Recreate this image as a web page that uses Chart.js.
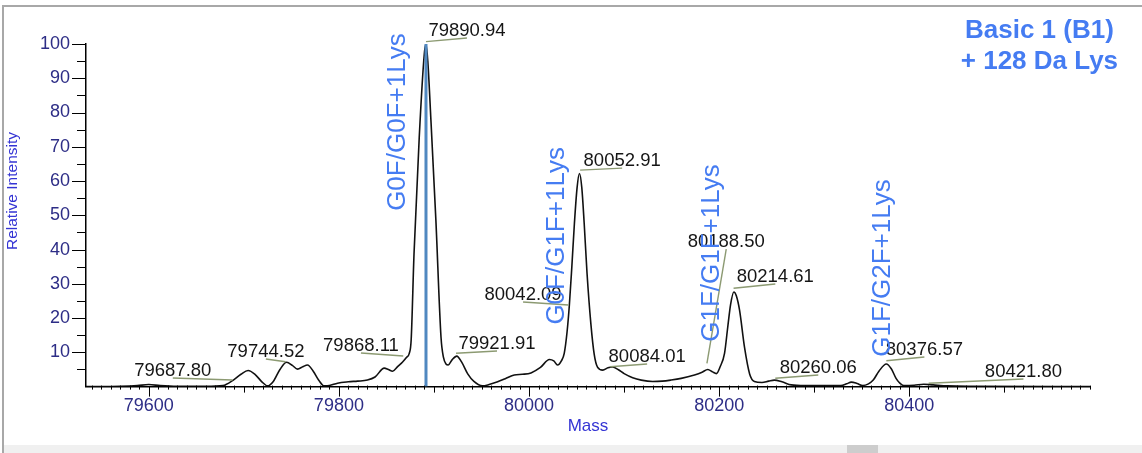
<!DOCTYPE html>
<html>
<head>
<meta charset="utf-8">
<script src="https://cdn.jsdelivr.net/npm/chart.js@4.4.1/dist/chart.umd.min.js"></script>
<style>
  html, body { margin: 0; padding: 0; background: #fff; }
  #wrap { width: 1142px; height: 453px; }
</style>
</head>
<body>
<div id="wrap"><canvas id="massChart" width="1142" height="453"></canvas></div>
<script>
// Deconvoluted spectrum
const masses = [
  79534, 79570, 79588, 79600, 79612, 79630, 79660, 79678, 79689, 79697,
  79704.5, 79712, 79719, 79725, 79731, 79738, 79745, 79751, 79756.5, 79762,
  79767, 79773, 79779, 79784.5, 79790, 79798.6, 79810, 79819.7, 79830, 79838,
  79847.7, 79852, 79856.5, 79862, 79867, 79871, 79874, 79876, 79879, 79884.5,
  79889.8, 79891.6, 79893.5, 79896.8, 79902, 79907.4, 79910, 79912.6, 79915, 79919,
  79924, 79929, 79935.5, 79942, 79951, 79958, 79967, 79975, 79984.5, 79993,
  80002, 80012, 80021.4, 80026, 80030, 80034, 80037, 80040, 80042.4, 80045,
  80047.7, 80050.5, 80053, 80055.5, 80058, 80061, 80065, 80068.5, 80072, 80077.6,
  80083, 80088, 80094, 80100, 80109, 80118, 80130, 80140, 80149, 80160,
  80174, 80182, 80188, 80193, 80197, 80201, 80205.6, 80209, 80212, 80215.4,
  80218, 80221.4, 80226.6, 80232, 80237, 80245, 80252, 80258, 80266, 80275.8,
  80290, 80310, 80328, 80334, 80339, 80345, 80351, 80357, 80362, 80368,
  80375.8, 80381, 80386, 80390, 80394, 80405, 80415, 80425, 80440, 80470,
  80590
];
const intensity = [
  0, 0.1, 0.3, 0.6, 0.3, 0.1, 0.1, 0.3, 1.9, 3.6,
  4.7, 3.5, 1.4, 0.2, 1.5, 5.0, 7.1, 6.2, 5.1, 5.8,
  6.3, 4.5, 1.8, 0.2, 0.3, 1.0, 1.4, 1.6, 1.9, 2.8,
  5.4, 5.0, 4.5, 5.9, 7.2, 8.5, 9.7, 13.6, 38.7, 72.8,
  97, 100, 95, 77.7, 48.6, 14.4, 8.5, 6.6, 6.3, 7.8,
  8.9, 7.2, 3.7, 1.5, 0.2, 0.6, 1.4, 2.3, 3.4, 3.6,
  4.0, 5.6, 7.9, 7.5, 6.3, 7.5, 9.7, 16, 23.8, 35,
  47.6, 58, 62.2, 58, 47.6, 33, 18.4, 9.5, 5.7, 4.8,
  5.5, 5.7, 4.9, 3.8, 2.6, 1.9, 1.5, 1.6, 1.9, 2.4,
  3.4, 4.2, 5.0, 4.3, 3.8, 5.8, 9.7, 17.4, 24, 27.6,
  26.5, 22.3, 11.5, 3.7, 1.5, 1.2, 1.6, 1.9, 1.4, 0.5,
  0.3, 0.3, 0.3, 0.8, 1.3, 0.9, 0.3, 0.8, 1.9, 4.5,
  6.6, 5.2, 2.4, 1.0, 0.3, 0.4, 0.7, 0.5, 0.2, 0.1,
  0
];

// selected peak (blue marker)
const markerMass = 79891.6;
const markerTop = 100;

const xTicks = [79600, 79800, 80000, 80200, 80400];
const yTicks = [10, 20, 30, 40, 50, 60, 70, 80, 90, 100];

// peak labels
const peakLabels = ['79687.80', '79744.52', '79868.11', '79890.94', '79921.91', '80042.09', '80052.91',
  '80084.01', '80188.50', '80214.61', '80260.06', '80376.57', '80421.80'];
const peakMass = [79688.1, 79743.9, 79867.7, 79891.6, 79923.2, 80041.4, 80053.7,
  80085.3, 80187.1, 80215.1, 80259.0, 80375.8, 80420.3];
const peakLevel = [1.93, 7.27, 8.93, 100.7, 9.72, 23.82, 63.2, 5.81, 6.8, 28.7, 2.42, 7.56, 0.96];

// glycoform labels
const glycoLabels = ['G0F/G0F+1Lys', 'G0F/G1F+1Lys', 'G1F/G1F+1Lys', 'G1F/G2F+1Lys'];

const titleLines = ['Basic 1 (B1)', '+ 128 Da Lys'];

// where the label texts sit (data units)
const labelAt = {
  peaks: [[79625.3, 4.55], [79723.2, 10.1], [79823.2, 11.85], [79934.7, 103.8], [79966.3, 12.43],
    [79993.7, 26.74], [80097.9, 65.8], [80124.2, 8.64], [80207.4, 42.2], [80259.0, 32.0],
    [80304.2, 5.43], [80415.8, 10.68], [80520, 4.26]],
  glyco: [[79862.1, 77.2], [80029.5, 44.0], [80192.6, 39.0], [80371.6, 34.6]],
  title: [[80536.8, 103.8], [80536.8, 94.8]]
};

const FONT = '"Liberation Sans", Arial, sans-serif';
const NAVY = '#2d2d86';
const BLUE = '#457cf2';

const spectrumPlugin = {
  id: 'spectrum',
  beforeDraw(chart) {
    const ctx = chart.ctx;
    ctx.save();
    ctx.fillStyle = '#fff';
    ctx.fillRect(0, 0, chart.width, chart.height);
    // window frame and scrollbar
    ctx.strokeStyle = '#a8a8a8';
    ctx.lineWidth = 2;
    ctx.beginPath();
    ctx.moveTo(3, chart.height);
    ctx.lineTo(3, 6);
    ctx.lineTo(chart.width, 6);
    ctx.stroke();
    ctx.fillStyle = '#f0f0f0';
    ctx.fillRect(4, 445, chart.width - 4, 8);
    ctx.fillStyle = '#cdcdcd';
    ctx.fillRect(847, 445, 31, 8);
    ctx.restore();
  },
  afterDatasetsDraw(chart) {
    const ctx = chart.ctx;
    const x = chart.scales.x, y = chart.scales.y;
    const area = chart.chartArea;
    ctx.save();

    // tick marks
    ctx.strokeStyle = '#000';
    ctx.lineWidth = 1;
    ctx.beginPath();
    for (let m = 79540; m <= 80590; m += 10) {
      const px = Math.round(x.getPixelForValue(m)) + 0.5;
      const len = m % 200 === 0 ? 10 : (m % 100 === 0 ? 6 : 3);
      ctx.moveTo(px, area.bottom - (len === 3 ? 1 : 0));
      ctx.lineTo(px, area.bottom + len);
    }
    for (let v = 5; v <= 100; v += 5) {
      const py = Math.round(y.getPixelForValue(v)) + 0.5;
      const len = v % 10 === 0 ? 14 : 9;
      ctx.moveTo(area.left - len, py);
      ctx.lineTo(area.left, py);
    }
    ctx.stroke();

    // leader lines
    ctx.strokeStyle = '#8c9a72';
    ctx.lineWidth = 1.4;
    peakLabels.forEach((t, i) => {
      const ax = x.getPixelForValue(peakMass[i]);
      const ay = y.getPixelForValue(peakLevel[i]);
      const bx = x.getPixelForValue(labelAt.peaks[i][0]);
      const by = y.getPixelForValue(labelAt.peaks[i][1]) + 7;
      ctx.beginPath();
      ctx.moveTo(ax, ay);
      ctx.lineTo(bx, by);
      ctx.stroke();
    });

    // peak mass labels
    ctx.fillStyle = '#151515';
    ctx.font = '18.5px ' + FONT;
    ctx.textAlign = 'center';
    ctx.textBaseline = 'middle';
    peakLabels.forEach((t, i) => {
      ctx.fillText(t, x.getPixelForValue(labelAt.peaks[i][0]), y.getPixelForValue(labelAt.peaks[i][1]));
    });

    // glycoform labels, vertical
    ctx.fillStyle = BLUE;
    ctx.font = '26px ' + FONT;
    glycoLabels.forEach((t, i) => {
      ctx.save();
      ctx.translate(x.getPixelForValue(labelAt.glyco[i][0]), y.getPixelForValue(labelAt.glyco[i][1]));
      ctx.rotate(-Math.PI / 2);
      ctx.fillText(t, 0, 0);
      ctx.restore();
    });

    // sample title
    ctx.font = 'bold 26px ' + FONT;
    titleLines.forEach((t, i) => {
      ctx.fillText(t, x.getPixelForValue(labelAt.title[i][0]), y.getPixelForValue(labelAt.title[i][1]));
    });

    // axis titles
    ctx.fillStyle = '#3434d4';
    ctx.font = '17px ' + FONT;
    ctx.fillText('Mass', (area.left + area.right) / 2, 426);
    ctx.save();
    ctx.translate(13, 191);
    ctx.rotate(-Math.PI / 2);
    ctx.font = '15.5px ' + FONT;
    ctx.fillText('Relative Intensity', 0, 0);
    ctx.restore();

    ctx.restore();
  }
};

const ctx = document.getElementById('massChart').getContext('2d');
new Chart(ctx, {
  type: 'line',
  data: {
    datasets: [
      {
        data: [{ x: markerMass, y: 0 }, { x: markerMass, y: markerTop }],
        borderColor: '#5088c0',
        borderWidth: 3,
        pointRadius: 0
      },
      {
        data: masses.map((m, i) => ({ x: m, y: intensity[i] })),
        borderColor: '#111',
        borderWidth: 1.6,
        pointRadius: 0,
        cubicInterpolationMode: 'monotone'
      }
    ]
  },
  options: {
    responsive: false,
    animation: false,
    layout: { padding: { top: 44, right: 52, left: 0, bottom: 0 } },
    plugins: { legend: { display: false }, tooltip: { enabled: false } },
    scales: {
      x: {
        type: 'linear',
        min: 79534,
        max: 80590,
        afterBuildTicks: scale => { scale.ticks = xTicks.map(v => ({ value: v })); },
        afterFit: scale => { scale.height = 66.4; },
        grid: { display: false, drawTicks: false },
        border: { display: true, color: '#000', width: 1.5 },
        ticks: {
          color: NAVY,
          font: { family: FONT, size: 18 },
          padding: 9,
          maxRotation: 0,
          autoSkip: false,
          callback: v => String(v)
        }
      },
      y: {
        min: 0,
        max: 100,
        afterBuildTicks: scale => { scale.ticks = yTicks.map(v => ({ value: v })); },
        afterFit: scale => { scale.width = 86; },
        grid: { display: false, drawTicks: false },
        border: { display: true, color: '#000', width: 1.5 },
        ticks: {
          color: NAVY,
          font: { family: FONT, size: 18 },
          padding: 16,
          callback: v => String(v)
        }
      }
    }
  },
  plugins: [spectrumPlugin]
});
</script>
</body>
</html>
